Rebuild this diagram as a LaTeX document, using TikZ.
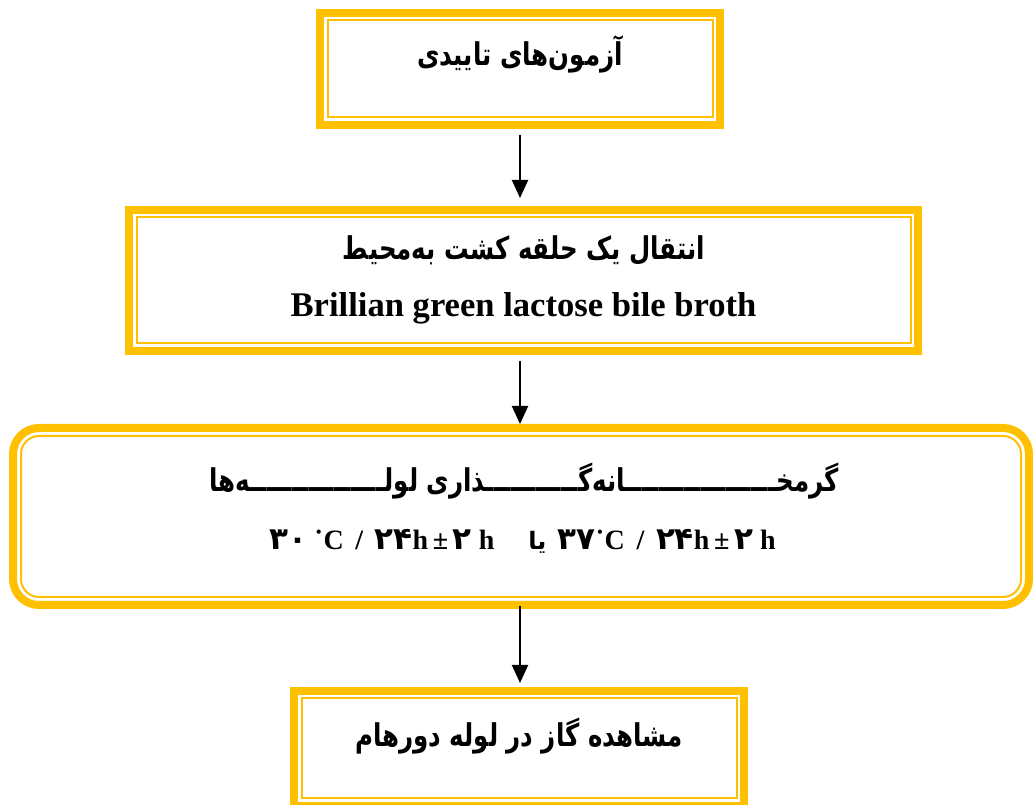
\documentclass[tikz,border=0pt]{standalone}
\usepackage{fontspec}
\setmainfont{Liberation Serif}
\newfontfamily\fa[Script=Arabic]{DejaVu Sans}
\TeXXeTstate=1
\usetikzlibrary{arrows.meta}
\definecolor{gold}{HTML}{FFC000}
\newcommand{\fatext}[1]{\scalebox{1}[1.28]{\beginR #1\endR}}
\newcommand{\fd}[1]{{\fa\fontsize{31}{32}\selectfont #1}}
\newcommand{\tw}{ـ}
\newcommand{\twf}{\tw\tw\tw\tw}
\tikzset{
  x=1pt, y=1pt,
  box/.style={draw=gold, line width=8pt, outer sep=0pt, inner sep=0pt, fill=white},
  rbox/.style={box, rounded corners=26pt},
  inner/.style={draw=gold, line width=2pt},
  fatxt/.style={inner sep=0pt, anchor=base, font=\fa\bfseries\fontsize{24.5}{28}\selectfont},
  latxt/.style={inner sep=0pt, anchor=base, font=\bfseries\fontsize{34.6}{40}\selectfont},
  numtxt/.style={inner sep=0pt, anchor=base, font=\bfseries\fontsize{28}{32}\selectfont},
  arr/.style={line width=2pt, -{Triangle[width=16pt,length=18pt]}},
}
\begin{document}
\begin{tikzpicture}
\useasboundingbox (0,0) rectangle (1033,805);
% boxes
\node[box, minimum width=400pt, minimum height=112pt] (b1) at (520,736) {};
\draw[inner] ([shift={(7.5,-7.5)}]b1.north west) rectangle ([shift={(-7.5,7.5)}]b1.south east);
\node[box, minimum width=789pt, minimum height=141pt] (b2) at (523.5,524.5) {};
\draw[inner] ([shift={(7.5,-7.5)}]b2.north west) rectangle ([shift={(-7.5,7.5)}]b2.south east);
\node[rbox, minimum width=1016pt, minimum height=177pt] (b3) at (521,288.5) {};
\draw[inner, rounded corners=18pt] ([shift={(8,-8)}]b3.north west) rectangle ([shift={(-8,8)}]b3.south east);
\node[box, minimum width=450pt, minimum height=115pt] (b4) at (519,56.5) {};
\draw[inner] ([shift={(7.5,-7.5)}]b4.north west) rectangle ([shift={(-7.5,7.5)}]b4.south east);
% texts
\node[fatxt] (t1) at (520,739) {\fatext{آزمون‌های تاییدی}};
\node[fatxt] (t2a) at (524,545) {\fatext{انتقال یک حلقه کشت به‌محیط}};
\node[latxt] (t2b) at (523.5,488) {Brillian green lactose bile broth};
\node[fatxt] (t3a) at (524,313) {\fatext{گرمخ\twf\twf\twf\twf\tw\tw انه‌گ\twf\twf\tw\tw\tw ذاری لول\twf\twf\twf\twf ه‌ها}};
\node[numtxt] (t3b) at (522.5,255) {\fd{۳۰} ˙C \,/\, \fd{۲۴}h\,±\,\fd{۲} h\hspace{34pt}{\fa\fontsize{24}{28}\selectfont\beginR یا\endR}\hspace{11pt}\fd{۳۷}˙C \,/\, \fd{۲۴}h\,±\,\fd{۲} h};
\node[fatxt] (t4) at (519,58) {\fatext{مشاهده گاز در لوله دورهام}};
% arrows
\draw[arr, shorten <=10pt, shorten >=12pt] (b1.south) -- (b1.south |- b2.north);
\draw[arr, shorten <=10pt, shorten >=4pt] (b2.south -| b1.south) -- (b1.south |- b3.north);
\draw[arr, shorten <=1pt, shorten >=8pt] (b3.south -| b1.south) -- (b1.south |- b4.north);
\end{tikzpicture}
\end{document}
